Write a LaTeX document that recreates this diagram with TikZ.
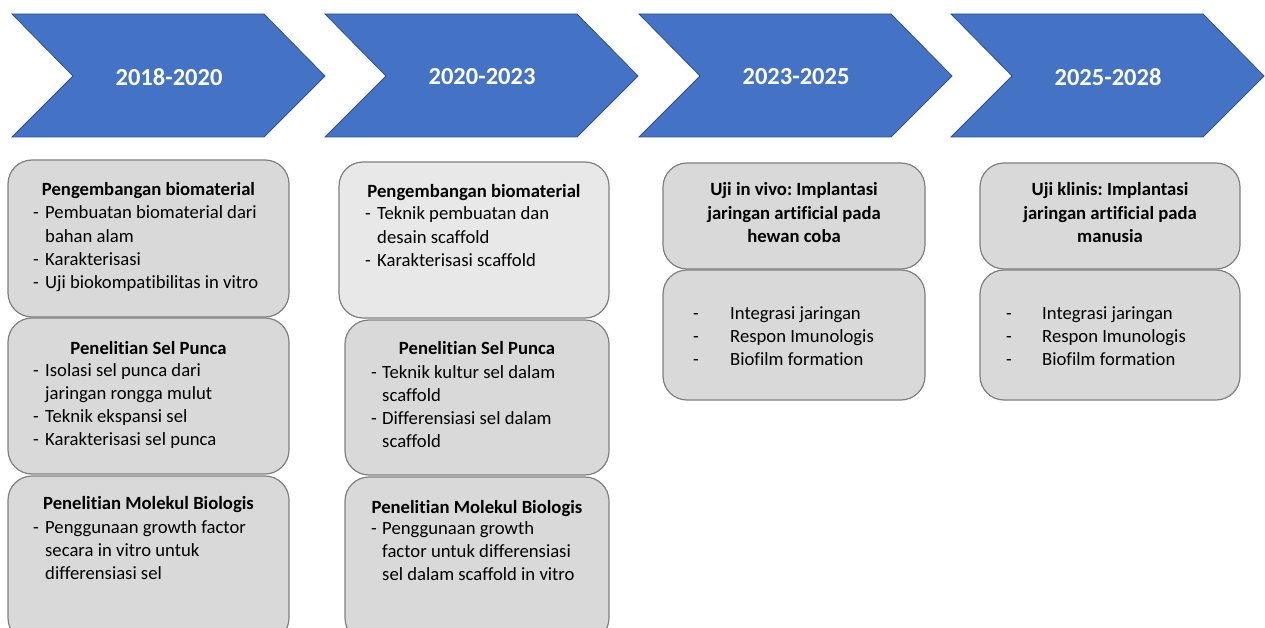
\documentclass[tikz,border=0pt]{standalone}
\usepackage{fontspec}
\setmainfont{Carlito}[Ligatures={NoCommon,NoContextual,NoRequired}]
\frenchspacing
\usetikzlibrary{fit}
\definecolor{chevblue}{HTML}{4472C4}
\definecolor{chevedge}{HTML}{2F528F}
\definecolor{boxfill}{HTML}{D9D9D9}
\definecolor{boxfilllight}{HTML}{E8E8E8}
\definecolor{boxedge}{HTML}{7F7F7F}
\begin{document}
\begin{tikzpicture}[x=1pt,y=-1pt,
  chev/.style={fill=chevblue,draw=chevedge,line width=0.8pt},
  year/.style={text=white,font=\fontsize{24.5}{28}\selectfont\bfseries,inner sep=0},
  box/.style={draw=boxedge,line width=1.2pt,fill=boxfill,rounded corners=24pt,inner sep=0},
  ttl/.style={font=\fontsize{18.67}{23.3}\selectfont\bfseries,inner sep=0,anchor=base},
  items/.style={font=\fontsize{18.67}{23.3}\selectfont,inner sep=0,anchor=base west}]
\useasboundingbox (0,0) rectangle (1265,628);
\begin{scope}
\clip (0,0) rectangle (1265,628);
% chevrons
\foreach \L/\txt/\nm in {12/2018-2020/y1,325/2020-2023/y2,639/2023-2025/y3,951/2025-2028/y4}{
  \draw[chev] (\L,14) -- (\L+252,14) -- (\L+313,76) -- (\L+252,137) -- (\L,137) -- (\L+61,76) -- cycle;
  \node[year] (\nm) at (\L+157,77) {\txt};
}
% boxes column 1
\node[box,fit={(8,160) (289,317)}] (a1) {};
\node[box,fit={(8,318) (289,474)}] (a2) {};
\node[box,fit={(8,476) (289,642)}] (a3) {};
% column 2
\node[box,fill=boxfilllight,fit={(339,162) (609,318)}] (b1) {};
\node[box,fit={(345,320) (609,475)}] (b2) {};
\node[box,fit={(345,477) (609,642)}] (b3) {};
% column 3
\node[box,fit={(663,163) (925,269)}] (c1) {};
\node[box,fit={(663,270) (925,400)}] (c2) {};
% column 4
\node[box,fit={(980,163) (1240,269)}] (d1) {};
\node[box,fit={(980,270) (1240,400)}] (d2) {};
\end{scope}
% texts column 1
\node[ttl] (a1t) at (148.5,196) {Pengembangan biomaterial};
\node[items] (a1i) at (33,219) {\begin{tabular}[t]{@{}p{12pt}@{}l@{}}
- & Pembuatan biomaterial dari\\ & bahan alam\\ - & Karakterisasi\\ - & Uji biokompatibilitas in vitro\end{tabular}};
\node[ttl] (a2t) at (148.5,354) {Penelitian Sel Punca};
\node[items] (a2i) at (33,376) {\begin{tabular}[t]{@{}p{12pt}@{}l@{}}
- & Isolasi sel punca dari\\ & jaringan rongga mulut\\ - & Teknik ekspansi sel\\ - & Karakterisasi sel punca\end{tabular}};
\node[ttl] (a3t) at (148.5,509) {Penelitian Molekul Biologis};
\node[items] (a3i) at (33,533) {\begin{tabular}[t]{@{}p{12pt}@{}l@{}}
- & Penggunaan growth factor\\ & secara in vitro untuk\\ & differensiasi sel\end{tabular}};
% texts column 2
\node[ttl] (b1t) at (474,198) {Pengembangan biomaterial};
\node[items] (b1i) at (365,220) {\begin{tabular}[t]{@{}p{12pt}@{}l@{}}
- & Teknik pembuatan dan\\ & desain scaffold\\ - & Karakterisasi scaffold\end{tabular}};
\node[ttl] (b2t) at (477,354) {Penelitian Sel Punca};
\node[items] (b2i) at (371,378) {\begin{tabular}[t]{@{}p{11pt}@{}l@{}}
- & Teknik kultur sel dalam\\ & scaffold\\ - & Differensiasi sel dalam\\ & scaffold\end{tabular}};
\node[ttl] (b3t) at (477,513) {Penelitian Molekul Biologis};
\node[items] (b3i) at (371,534) {\begin{tabular}[t]{@{}p{11pt}@{}l@{}}
- & Penggunaan growth\\ & factor untuk differensiasi\\ & sel dalam scaffold in vitro\end{tabular}};
% texts column 3
\node[ttl] (c1t) at (794,196) {\begin{tabular}[t]{@{}c@{}}Uji in vivo: Implantasi\\ jaringan artificial pada\\ hewan coba\end{tabular}};
\node[items] (c2i) at (693,319) {\begin{tabular}[t]{@{}p{37pt}@{}l@{}}
- & Integrasi jaringan\\ - & Respon Imunologis\\ - & Biofilm formation\end{tabular}};
% texts column 4
\node[ttl] (d1t) at (1110,196) {\begin{tabular}[t]{@{}c@{}}Uji klinis: Implantasi\\ jaringan artificial pada\\ manusia\end{tabular}};
\node[items] (d2i) at (1006,319) {\begin{tabular}[t]{@{}p{36pt}@{}l@{}}
- & Integrasi jaringan\\ - & Respon Imunologis\\ - & Biofilm formation\end{tabular}};
\end{tikzpicture}
\end{document}
